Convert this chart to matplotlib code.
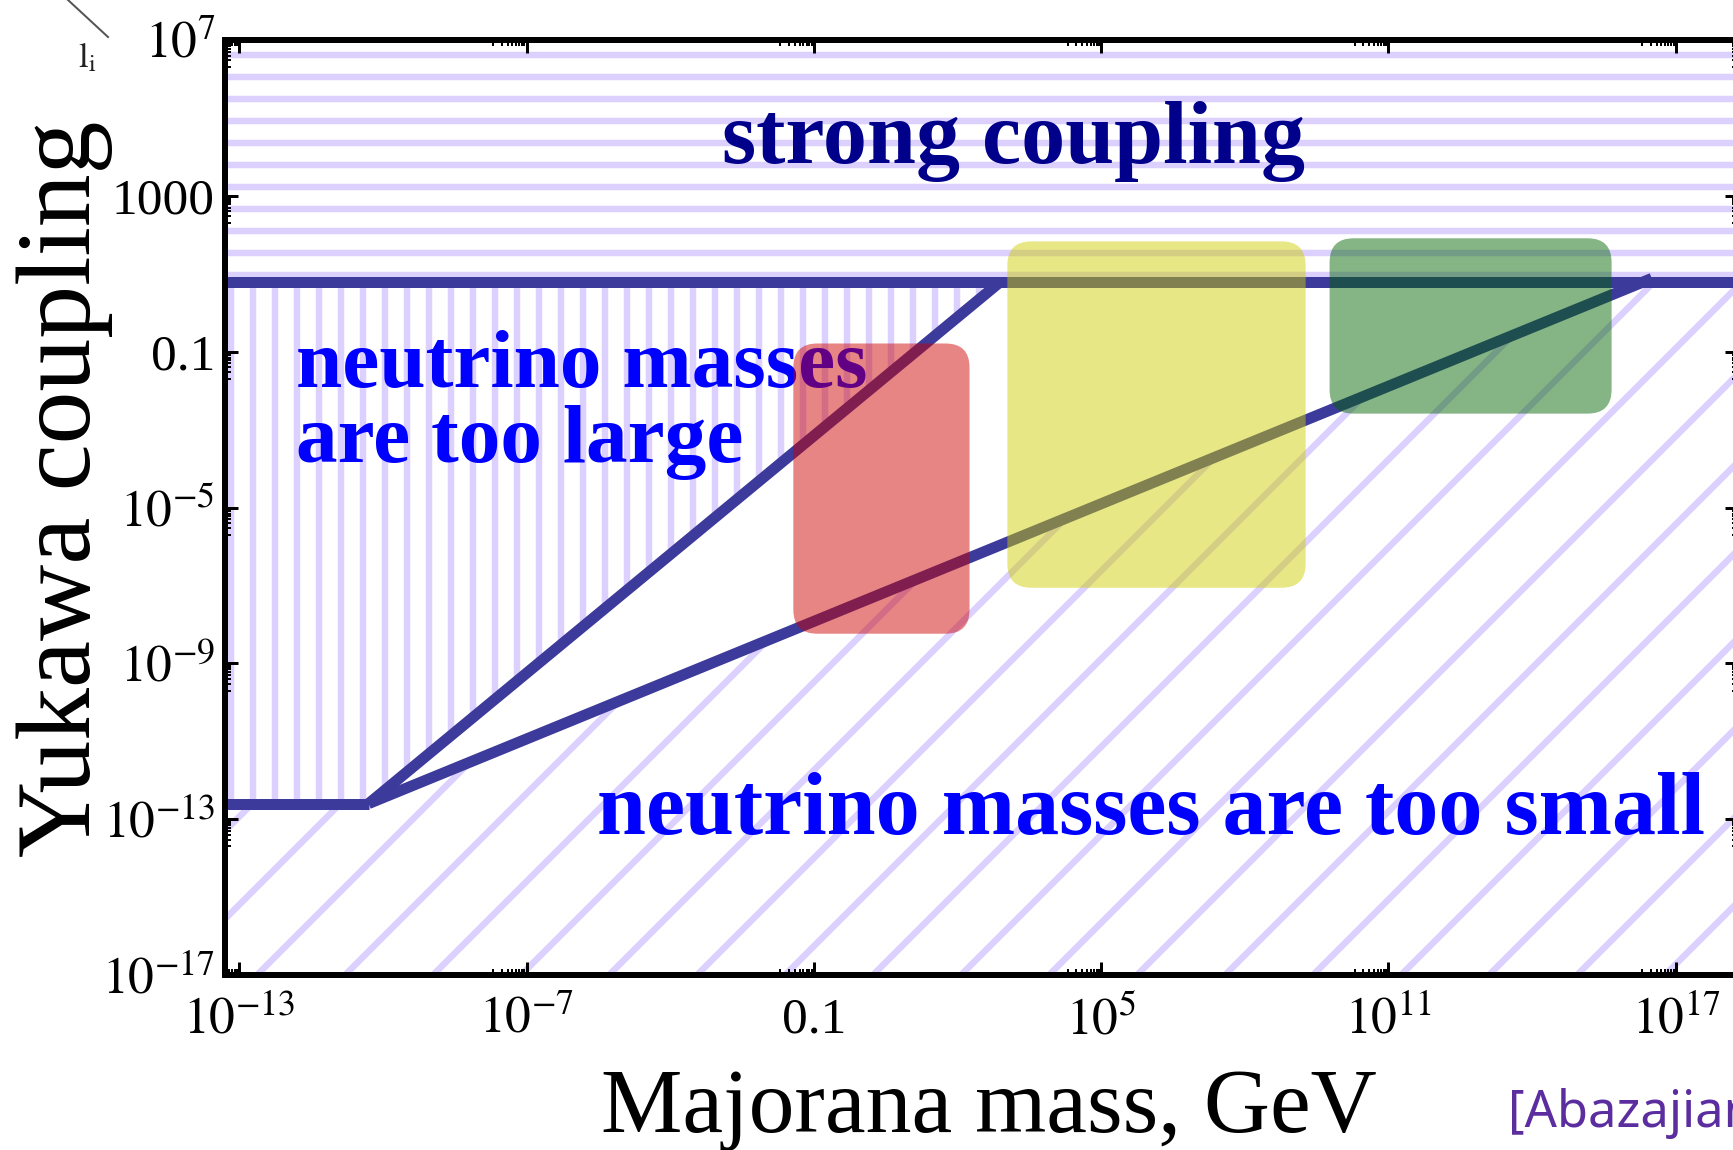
import matplotlib
matplotlib.use("Agg")
import matplotlib.pyplot as plt
import matplotlib.ticker as mticker
import matplotlib.transforms as mtransforms
from matplotlib.patches import FancyBboxPatch
from matplotlib.lines import Line2D

DPI = 264


def px(p):
    # pixels -> points at the figure dpi
    return p * 72.0 / DPI


# axis ranges
mass_lim = [10**-13.3, 10**18.3]
yuk_lim = [1e-17, 1e7]

# boundary lines
y_strong = 10**0.8            # strong coupling limit
y_floor = 10**-12.6           # lower flat line
kink_mass = 10**-10.3
upper_end = [10**2.9, 10**0.8]
lower_end = [10**16.5, 10**0.88]

# coloured boxes (log10 of mass and coupling ranges)
box_logm = [(-1.43, 2.25), (3.04, 9.27), (9.77, 15.66)]
box_logy = [(-8.24, -0.79), (-7.06, 1.83), (-2.59, 1.91)]
box_colors = ["#CD0000", "#CDCD00", "#006400"]

xticks = [1e-13, 1e-7, 0.1, 1e5, 1e11, 1e17]
xticklabels = [r"$10^{-13}$", r"$10^{-7}$", "0.1", r"$10^{5}$", r"$10^{11}$", r"$10^{17}$"]
yticks = [1e-17, 1e-13, 1e-9, 1e-5, 0.1, 1000, 1e7]
yticklabels = [r"$10^{-17}$", r"$10^{-13}$", r"$10^{-9}$", r"$10^{-5}$", "0.1", "1000", r"$10^{7}$"]

line_col = "#3C3A9A"
hatch_col = "#DCD0FF"

plt.rcParams["font.family"] = "Liberation Serif"
plt.rcParams["mathtext.fontset"] = "stix"
plt.rcParams["hatch.linewidth"] = px(6.5)

fig = plt.figure(figsize=(1733 / DPI, 1150 / DPI), dpi=DPI)
ax = fig.add_axes([225 / 1733, 1 - 975 / 1150, 1513 / 1733, 935 / 1150])
ax.set_xscale("log")
ax.set_yscale("log")
ax.set_xlim(mass_lim)
ax.set_ylim(yuk_lim)

# hatched regions
ax.fill_between(mass_lim, y_strong, yuk_lim[1], facecolor="none",
                edgecolor=hatch_col, hatch="--", linewidth=0, zorder=1)
ax.fill_between([mass_lim[0], kink_mass, upper_end[0]],
                [y_floor, y_floor, upper_end[1]], y_strong, facecolor="none",
                edgecolor=hatch_col, hatch="||", linewidth=0, zorder=1)
ax.fill_between([mass_lim[0], kink_mass, lower_end[0], mass_lim[1]], yuk_lim[0],
                [y_floor, y_floor, lower_end[1], y_strong], facecolor="none",
                edgecolor=hatch_col, hatch="/", linewidth=0, zorder=1)

# boundary lines
lw = px(11)
ax.plot(mass_lim, [y_strong, y_strong], color=line_col, lw=lw, solid_capstyle="butt", zorder=2)
ax.plot([mass_lim[0], kink_mass], [y_floor, y_floor], color=line_col, lw=lw,
        solid_capstyle="butt", zorder=2)
ax.plot([kink_mass, upper_end[0]], [y_floor, upper_end[1]], color=line_col, lw=lw,
        solid_capstyle="butt", zorder=2)
ax.plot([kink_mass, lower_end[0]], [y_floor, lower_end[1]], color=line_col, lw=lw,
        solid_capstyle="butt", zorder=2)

# region labels
bold = dict(fontweight="bold", transform=ax.transAxes, zorder=3)
ax.text(0.521, 0.868, "strong coupling", color="#00008B", ha="center", va="baseline",
        fontsize=24, **bold)
ax.text(0.047, 0.629, "neutrino masses", color="#0000FF", ha="left", va="baseline",
        fontsize=22.7, **bold)
ax.text(0.047, 0.549, "are too large", color="#0000FF", ha="left", va="baseline",
        fontsize=22.7, **bold)
ax.text(0.246, 0.151, "neutrino masses are too small", color="#0000FF", ha="left",
        va="baseline", fontsize=24, **bold)

# rounded boxes, drawn in pixel space so the corners stay round on log axes
for (m0, m1), (g0, g1), c in zip(box_logm, box_logy, box_colors):
    x0, y0 = ax.transData.transform((10**m0, 10**g0))
    x1, y1 = ax.transData.transform((10**m1, 10**g1))
    box = FancyBboxPatch((x0, y0), x1 - x0, y1 - y0,
                         boxstyle="round,pad=0,rounding_size=24",
                         transform=mtransforms.IdentityTransform(),
                         facecolor=c, edgecolor="none", alpha=0.48, zorder=5)
    ax.add_patch(box)

# ticks
ax.set_xticks(xticks)
ax.set_xticklabels(xticklabels)
ax.set_yticks(yticks)
ax.set_yticklabels(yticklabels)
ax.set_xticks([k * t / 10 for t in xticks for k in range(2, 10)], minor=True)
ax.set_yticks([k * t / 10 for t in yticks for k in range(2, 10)
               if k * t / 10 > yuk_lim[0]], minor=True)
ax.xaxis.set_minor_formatter(mticker.NullFormatter())
ax.yaxis.set_minor_formatter(mticker.NullFormatter())
ax.set_xlim(mass_lim)
ax.set_ylim(yuk_lim)
ax.tick_params(which="both", direction="in", top=True, right=True, colors="black")
ax.tick_params(which="major", length=px(13), width=px(3), labelsize=14)
ax.tick_params(which="minor", length=px(6), width=px(2))
ax.tick_params(axis="x", pad=px(22))
ax.tick_params(axis="y", pad=px(10))
for s in ax.spines.values():
    s.set_linewidth(px(6))

ax.set_xlabel("Majorana mass, GeV", fontsize=25)
ax.xaxis.label.set_va("baseline")
ax.xaxis.set_label_coords(0.505, -0.168)
ax.set_ylabel("Yukawa coupling", fontsize=28.8)
ax.yaxis.label.set_va("center")
ax.yaxis.set_label_coords(-0.106, 0.52)

# cropped remnants from the slide
fig.text(78 / 1733, 1 - 67 / 1150, r"$\mathrm{l_i}$", fontsize=9.5, color="#222222")
fig.add_artist(Line2D([68 / 1733, 108 / 1733], [1.0, 1 - 37 / 1150],
                      transform=fig.transFigure, color="#555555", lw=px(2)))
fig.text(1508 / 1733, 23 / 1150, "[Abazajian et al. 2012]", fontsize=13.8,
         family="Noto Sans", color="#5B2D9E", va="baseline")

fig.savefig("out.png", dpi=DPI)
